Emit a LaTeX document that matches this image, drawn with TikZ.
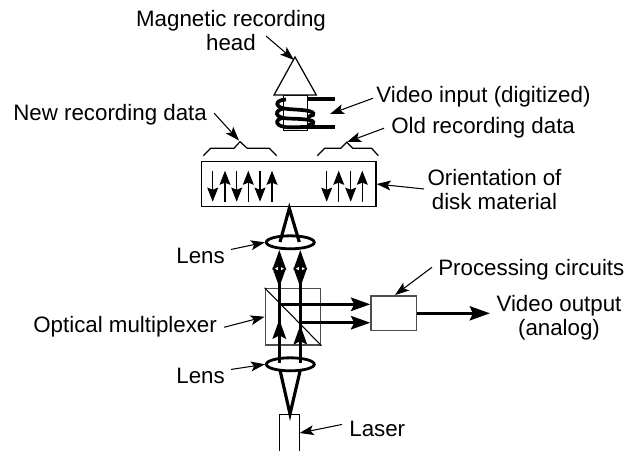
\documentclass[tikz,border=0pt]{standalone}
\usepackage{fontspec}
\setmainfont{Liberation Sans}
\usetikzlibrary{shapes,arrows.meta,positioning,calc}
\tikzset{
  labeltext/.style={font=\fontsize{12.7}{13.7}\selectfont, inner sep=0pt, align=center},
  leader/.style={line width=0.6pt, -{Stealth[length=8pt,width=5.6pt,inset=1.8pt]}},
  thinbox/.style={draw, line width=0.7pt, inner sep=0pt, fill=white},
  greybox/.style={thinbox, draw=black!70, line width=0.8pt},
  lensnode/.style={draw, ellipse, line width=1.6pt, inner sep=0pt, minimum width=0.96cm, minimum height=0.26cm},
  beam/.style={line width=1.8pt},
  beamtip/.style={beam, -{Stealth[length=11pt,width=7.6pt,inset=1.8pt]}},
  magtip/.style={line width=0.65pt, -{Stealth[length=8pt,width=6.2pt,inset=1.2pt]}},
  coilwire/.style={line width=2.1pt},
}
\begin{document}
\begin{tikzpicture}[x=0.02cm, y=-0.02cm]
    \useasboundingbox (0,0) rectangle (625,451);

    % recording head
    \node[thinbox, minimum width=0.48cm, minimum height=0.71cm] (core) at (295.3,113) {};
    \draw[line width=0.7pt, fill=white, line join=miter] (274,95) -- (295,57) -- (316.3,95) -- cycle;
    \coordinate (headtip) at (294,60);
    \draw[coilwire] (335,99) -- (308,99);
    \draw[coilwire] (335,127.3) -- (300,127.3);
    \draw[coilwire] (286,99.5) .. controls (274,100) and (274,108) .. (288,109) .. controls (300,110) and (316,110) .. (313,115) -- (307.5,117);
    \draw[coilwire] (284,108.5) .. controls (274,110) and (274,118) .. (288,118.5) .. controls (300,119) and (316,119) .. (313,123.5) -- (307.5,125.5);
    \draw[coilwire] (284,117.5) .. controls (274,119) and (274,127.3) .. (290,127.3) -- (300,127.3);

    % disk and the two data brackets
    \node[thinbox, minimum width=3.49cm, minimum height=0.91cm] (disk) at (288.8,184) {};
    \foreach \px in {212.7,236.7,260,326.7,350.7}
      \draw[magtip] (\px,170.7) -- (\px,201.7);
    \foreach \px in {225,248.3,272,338.7,362.3}
      \draw[magtip] (\px,201.7) -- (\px,170.7);
    \draw[line width=0.7pt] (203.3,155.7) -- (210.7,148.3) -- (234,148.3) -- (240,141.7) -- (247.3,148.3) -- (269.3,148.3) -- (276.7,155.7);
    \draw[line width=0.7pt] (317.3,155.7) -- (324.7,148.3) -- (340.7,148.3) -- (346.7,142.3) -- (352.7,148.3) -- (371.7,148.3) -- (378.3,155.7);

    % optics
    \coordinate (apex) at (289.3,208.3);
    \node[lensnode] (lensup) at (290.3,242.3) {};
    \node[lensnode] (lensdown) at (290.3,364.3) {};
    \node[greybox, minimum width=1.11cm, minimum height=1.13cm] (cube) at (293,316.7) {};
    \draw[line width=0.6pt] (cube.north west) -- (cube.south east);
    \node[greybox, minimum width=0.91cm, minimum height=0.69cm] (proc) at (393.8,313.3) {};

    \coordinate (laserleft) at (279.3,414.3);
    \coordinate (laserright) at (299.7,414.3);
    \coordinate (lasertop) at (290,414);
    \draw[line width=0.7pt] (279.3,451) -- (laserleft) -- (laserright) -- (299.7,451);

    \draw[beam] (280,242) -- (apex) -- (299.3,242);
    \draw[beam] (280,370) -- (lasertop) -- (300.3,370);
    \coordinate (outa) at (279.3,304.3);
    \coordinate (outb) at (300.3,322.7);
    \draw[beam] (279.3,266) -- (279.3,363);
    \draw[beam] (300.3,266) -- (300.3,363);
    \foreach \px in {279.3,300.3} {
      \draw[beamtip] (\px,268) -- (\px,250);
      \draw[beamtip] (\px,266) -- (\px,287.3);
    }
    \draw[beamtip] (279.3,338) -- (279.3,319.3);
    \draw[beamtip] (300.3,344) -- (300.3,325);
    \draw[beamtip] (outa) -- (proc.west |- outa);
    \draw[beamtip] (outb) -- (proc.west |- outb);
    \coordinate (outend) at (490,313.3);
    \draw[beam, -{Stealth[length=11.5pt,width=8pt,inset=1.8pt]}] (proc.east) -- (outend);

    % labels
    \node[labeltext] (headlabel) at (231,30.5) {Magnetic recording\\head};
    \node[labeltext, anchor=base west] (newlabel) at (13,120) {New recording data};
    \node[labeltext, anchor=base west] (inputlabel) at (376,102) {Video input (digitized)};
    \node[labeltext, anchor=base west] (oldlabel) at (391,133) {Old recording data};
    \node[labeltext] (orientlabel) at (494.5,189.5) {Orientation of\\disk material};
    \node[labeltext, anchor=base west] (lensuplabel) at (176,263) {Lens};
    \node[labeltext, anchor=base west] (lensdownlabel) at (176,383) {Lens};
    \node[labeltext, anchor=base west] (cubelabel) at (33,332) {Optical multiplexer};
    \node[labeltext, anchor=base west] (proclabel) at (438,275) {Processing circuits};
    \node[labeltext] (outlabel) at (559,318) {Video output\\(analog)};
    \node[labeltext, anchor=base west] (laserlabel) at (349,436) {Laser};

    % leaders
    \draw[leader] (266,36) -- (headtip);
    \draw[leader] ($(newlabel.east)+(7,-1)$) -- (239,140.5);
    \draw[leader] ($(inputlabel.west)+(-3,2)$) -- (330,114);
    \draw[leader] ($(oldlabel.west)+(-7,1)$) -- (347,142);
    \draw[leader] (424,189) -- (disk.east |- 0,184);
    \draw[leader] ($(lensuplabel.east)+(6,-6)$) -- (lensup.west);
    \draw[leader] ($(lensdownlabel.east)+(6,-6)$) -- (lensdown.west);
    \draw[leader] ($(cubelabel.east)+(7,1)$) -- (cube.west);
    \draw[leader] ($(proclabel.west)+(-6,-2)$) -- (395,295);
    \draw[leader] ($(laserlabel.west)+(-7,-4)$) -- (laserright |- 0,433);
  \end{tikzpicture}
\end{document}
